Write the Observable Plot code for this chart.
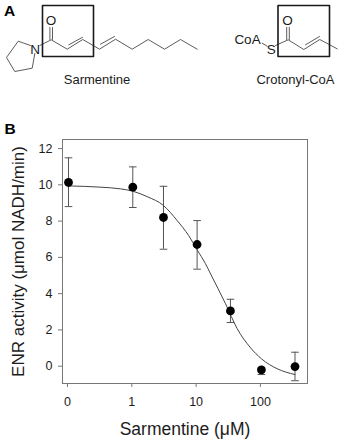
<!DOCTYPE html>
<html>
<head>
<meta charset="utf-8">
<script src="https://cdn.jsdelivr.net/npm/d3@7"></script>
<script src="https://cdn.jsdelivr.net/npm/@observablehq/plot@0.6"></script>
<style>
html,body{margin:0;padding:0;background:#fff;}
svg{display:block;}
</style>
</head>
<body>
<div id="chart"></div>
<script>
// Panel B data
const conc = [0.1, 1, 3, 10, 33, 100, 333];
const tickValues = [0.1, 1, 10, 100];
const tickLabels = ["0", "1", "10", "100"];
const activity = [10.13, 9.87, 8.2, 6.71, 3.05, -0.2, -0.02];
const errHigh = [11.49, 10.99, 9.92, 8.03, 3.69, -0.07, 0.77];
const errLow = [8.8, 8.75, 6.45, 5.35, 2.41, -0.46, -0.8];
const curveX = [0.1, 0.32, 0.64, 1, 1.67, 3, 4.9, 7.4, 10, 13.5, 16.2, 27.7, 42, 68, 100, 176, 333];
const curveY = [9.94, 9.87, 9.78, 9.65, 9.35, 8.86, 8.03, 7.2, 6.42, 5.65, 5.09, 3.44, 2.07, 1.01, 0.41, -0.14, -0.46];

// Panel A structures (polylines in the panel's own coordinate system)
const bonds = [
  [[30,45],[17.7,40.7],[6,57],[14.3,71],[31.7,67.7],[34.3,53]],
  [[39.3,45],[50.7,39.3],[66.7,48.7],[82.3,39],[99,48.7],[115,38.7],[131.7,48.7],[147.7,39],[164,48.7],[180,39],[196.7,48.7]],
  [[49.4,39],[49.4,27]], [[52,39],[52,27]],
  [[68.3,44.3],[82,36.8]], [[100,43.7],[114,36]],
  [[261.7,42.7],[266.7,45.7]],
  [[275,45],[287.7,39.3],[303.3,49],[319.3,39],[336.7,48.3]],
  [[286.2,39],[286.2,27]], [[288.8,39],[288.8,27]],
  [[305,44.3],[319,36]]
];
const boxes = [
  [[42,5],[93,5],[93,56],[42,56],[42,5]],
  [[277.5,5],[329,5],[329,56],[277.5,56],[277.5,5]]
];
const atomLabels = [
  {t:"N", x:34.5, y:49.5}, {t:"O", x:50.5, y:20}, {t:"O", x:287, y:20},
  {t:"S", x:270.7, y:49.5}, {t:"CoA", x:247, y:39}
];
const nameLabels = [{t:"Sarmentine", x:96.5, y:79.5}, {t:"Crotonyl-CoA", x:295, y:79.5}];
const panelLabels = [{t:"A", x:3.5, y:10.5}, {t:"B", x:4, y:129}];

const font = "'Liberation Sans', Arial, sans-serif";
const ink = "#1c1c1c";

const segments = bonds.flatMap((b, i) => b.map(p => ({x:p[0], y:p[1], z:i})));
const boxPts = boxes.flatMap((b, i) => b.map(p => ({x:p[0], y:p[1], z:i})));

const panelA = Plot.plot({
  width: 340, height: 138,
  marginTop: 0, marginBottom: 0, marginLeft: 0, marginRight: 0,
  style: {fontFamily: font, background: "transparent"},
  x: {domain: [0, 340], axis: null},
  y: {domain: [138, 0], axis: null},
  marks: [
    Plot.line(segments, {x:"x", y:"y", z:"z", stroke:"#4a4a4a", strokeWidth:0.9, curve:"linear"}),
    Plot.line(boxPts, {x:"x", y:"y", z:"z", stroke:"#1a1a1a", strokeWidth:1.6, curve:"linear"}),
    Plot.text(atomLabels, {x:"x", y:"y", text:"t", fontSize:13.5, fill:ink}),
    Plot.text(nameLabels, {x:"x", y:"y", text:"t", fontSize:13, fill:ink}),
    Plot.text(panelLabels, {x:"x", y:"y", text:"t", fontSize:15.5, fontWeight:"bold", fill:"#000", textAnchor:"start"})
  ]
});

const rows = conc.map((c, i) => ({c, a:activity[i], hi:errHigh[i], lo:errLow[i]}));
const curve = curveX.map((x, i) => ({x, y:curveY[i]}));
const cap = {draw(ctx){ ctx.moveTo(-3.8,0); ctx.lineTo(3.8,0); }};

const panelB = Plot.plot({
  width: 340, height: 306,
  marginTop: 1, marginBottom: 61, marginLeft: 62, marginRight: 33,
  style: {fontFamily: font, background: "transparent", color: ink},
  x: {type:"log", domain:[0.0807, 521]},
  y: {domain:[-0.954, 12.5]},
  marks: [
    Plot.frame({stroke:"#777", strokeWidth:1}),
    Plot.axisX({ticks: tickValues, tickFormat: d => tickLabels[tickValues.indexOf(d)], tickSize:4, tickPadding:10, fontSize:12.5, label:null, stroke:"#777", textStroke:"none", dx:-1}),
    Plot.axisY({ticks:[0,2,4,6,8,10,12], tickSize:4, tickPadding:6, fontSize:12.5, label:null, stroke:"#777"}),
    Plot.text(["Sarmentine (μM)"], {frameAnchor:"bottom", dy:46, fontSize:17.5, fill:ink, lineAnchor:"middle"}),
    Plot.text(["ENR activity (μmol NADH/min)"], {frameAnchor:"left", dx:-44, rotate:-90, textAnchor:"middle", lineAnchor:"middle", fontSize:17, fill:ink}),
    Plot.ruleX(rows, {x:"c", y1:"lo", y2:"hi", stroke:"#555", strokeWidth:1}),
    Plot.dot(rows, {x:"c", y:"hi", symbol:cap, r:4, stroke:"#555", strokeWidth:1}),
    Plot.dot(rows, {x:"c", y:"lo", symbol:cap, r:4, stroke:"#555", strokeWidth:1}),
    Plot.line(curve, {x:"x", y:"y", stroke:"#444", strokeWidth:1, curve:"monotone-x"}),
    Plot.dot(rows, {x:"c", y:"a", r:4.4, fill:"#000", stroke:"none"})
  ]
});

document.getElementById("chart").append(panelA, panelB);
</script>
</body>
</html>
